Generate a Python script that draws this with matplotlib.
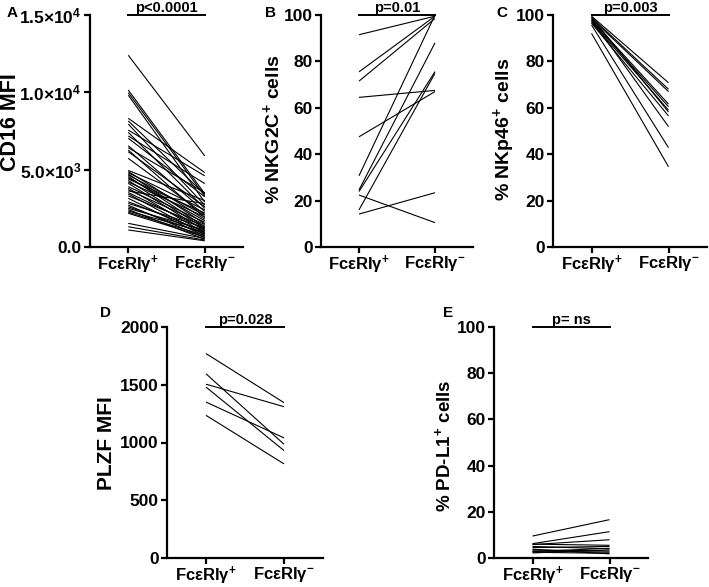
import matplotlib
matplotlib.use("Agg")
import matplotlib.pyplot as plt

plt.rcParams['font.family'] = ['Liberation Sans', 'DejaVu Sans']
plt.rcParams['font.weight'] = 'bold'
plt.rcParams['mathtext.fontset'] = 'custom'
plt.rcParams['mathtext.rm'] = 'Liberation Sans:bold'
plt.rcParams['mathtext.bf'] = 'Liberation Sans:bold'
plt.rcParams['mathtext.it'] = 'Liberation Sans:bold'

# ---------------- data ----------------
categories = ["FcεRIγ$^{+}$", "FcεRIγ$^{-}$"]

cd16_pos = [12400, 10150, 9980, 9820, 8320, 8150, 7950, 7560, 7410, 7180, 7030,
            6550, 6420, 6270, 6160, 5730, 4950, 4880, 4800, 4720, 4650, 4560,
            4480, 4400, 4300, 4200, 4120, 3900, 3800, 3700, 3620, 3520, 3430,
            3300, 3150, 2930, 2820, 2700, 2600, 2500, 2420, 2330, 2250, 2180,
            1530, 1310, 1100]
cd16_neg = [5890, 3450, 3300, 2900, 4810, 3400, 2700, 4600, 2500, 4100, 3250,
            2300, 3500, 1900, 2600, 2100, 3000, 1800, 2400, 1500, 2050, 1300,
            1700, 2200, 1200, 1950, 1050, 1600, 900, 1450, 2800, 1150, 800,
            1350, 700, 1000, 1250, 600, 850, 1100, 500, 950, 750, 650,
            550, 450, 400]

nkg2c_pos = [91.5, 75.5, 71.5, 30.7, 64.5, 47.5, 24.6, 23.9, 16.0, 22.4, 14.2]
nkg2c_neg = [99.5, 99.5, 98.5, 100.0, 67.5, 67.0, 88.0, 75.6, 74.9, 10.5, 23.4]

nkp46_pos = [99.5, 99.0, 98.5, 98.0, 97.5, 97.0, 99.0, 96.5, 98.0, 95.7, 92.1]
nkp46_neg = [70.8, 68.0, 67.0, 61.6, 60.5, 59.0, 58.2, 56.5, 51.9, 42.8, 34.6]

plzf_pos = [1770, 1505, 1595, 1480, 1350, 1235]
plzf_neg = [1345, 1310, 985, 930, 1040, 815]

pdl1_pos = [9.5, 6.2, 5.8, 6.0, 5.0, 4.5, 3.5, 3.0, 2.8, 2.5, 2.2, 3.8]
pdl1_neg = [16.6, 11.4, 7.9, 5.5, 4.0, 5.0, 3.0, 2.5, 4.2, 2.0, 3.5, 1.8]

p_texts = ["p<0.0001", "p=0.01", "p=0.003", "p=0.028", "p= ns"]
y_labels = ["CD16 MFI", "% NKG2C$^{+}$ cells", "% NKp46$^{+}$ cells",
            "PLZF MFI", "% PD-L1$^{+}$ cells"]
panel_letters = ["A", "B", "C", "D", "E"]

# ---------------- layout ----------------
W, H = 709, 587
fig = plt.figure(figsize=(W / 100, H / 100), dpi=100)

def px_axes(l, r, top, bottom):
    return fig.add_axes([l / W, (H - bottom) / H, (r - l) / W, (bottom - top) / H])

panels = [
    dict(box=(90, 243, 15, 247), data=(cd16_pos, cd16_neg), ylim=15000,
         yticks=[0, 5000, 10000, 15000],
         yticklabels=["0.0", r"5.0×10$^{3}$", r"1.0×10$^{4}$", r"1.5×10$^{4}$"],
         letter_xy=(7, 17), ylab_x=11, ylab_y=122, ylab_fs=15.5),
    dict(box=(321, 473, 15, 247), data=(nkg2c_pos, nkg2c_neg), ylim=100,
         yticks=[0, 20, 40, 60, 80, 100], yticklabels=None,
         letter_xy=(265, 17), ylab_x=272, ylab_y=129, ylab_fs=14),
    dict(box=(553, 707, 15, 247), data=(nkp46_pos, nkp46_neg), ylim=100,
         yticks=[0, 20, 40, 60, 80, 100], yticklabels=None,
         letter_xy=(496, 17), ylab_x=504, ylab_y=129, ylab_fs=14),
    dict(box=(167, 323, 327, 558), data=(plzf_pos, plzf_neg), ylim=2000,
         yticks=[0, 500, 1000, 1500, 2000], yticklabels=None,
         letter_xy=(100, 317), ylab_x=107, ylab_y=443, ylab_fs=15),
    dict(box=(494, 648, 327, 558), data=(pdl1_pos, pdl1_neg), ylim=100,
         yticks=[0, 20, 40, 60, 80, 100], yticklabels=None,
         letter_xy=(443, 317), ylab_x=444, ylab_y=446, ylab_fs=13.5),
]

for i, p in enumerate(panels):
    l, r, t, b = p["box"]
    ax = px_axes(l, r, t, b)
    pos, neg = p["data"]
    for a, c in zip(pos, neg):
        ax.plot([0, 1], [a, c], color="black", lw=0.8, solid_capstyle="butt")
    ax.set_xlim(-0.5, 1.5)
    ax.set_ylim(0, p["ylim"])
    ax.set_xticks([0, 1])
    ax.set_xticklabels(categories, fontsize=12, fontweight="bold")
    ax.set_yticks(p["yticks"])
    if p["yticklabels"] is not None:
        ax.set_yticklabels(p["yticklabels"])
    for lab in ax.get_yticklabels():
        lab.set_fontsize(12.5)
        lab.set_fontweight("bold")
    for s in ["top", "right"]:
        ax.spines[s].set_visible(False)
    for s in ["left", "bottom"]:
        ax.spines[s].set_linewidth(1.6)
    ax.tick_params(axis="both", width=1.6, length=4.5, direction="out")
    ax.tick_params(axis="y", pad=1.5)
    ax.tick_params(axis="x", pad=0.5)
    # significance bar
    ax.plot([0, 1], [p["ylim"], p["ylim"]], color="black", lw=1.4, clip_on=False)
    ax.text(0.5, p["ylim"], p_texts[i], ha="center", va="bottom", fontsize=10.5,
            fontweight="bold")
    # y label
    fig.text(p["ylab_x"] / W, (H - p["ylab_y"]) / H, y_labels[i], rotation=90,
             ha="center", va="center", fontsize=p["ylab_fs"], fontweight="bold")
    # panel letter
    lx, ly = p["letter_xy"]
    fig.text(lx / W, (H - ly) / H, panel_letters[i], ha="left", va="baseline",
             fontsize=11, fontweight="bold")

fig.savefig("out.png", dpi=100)
